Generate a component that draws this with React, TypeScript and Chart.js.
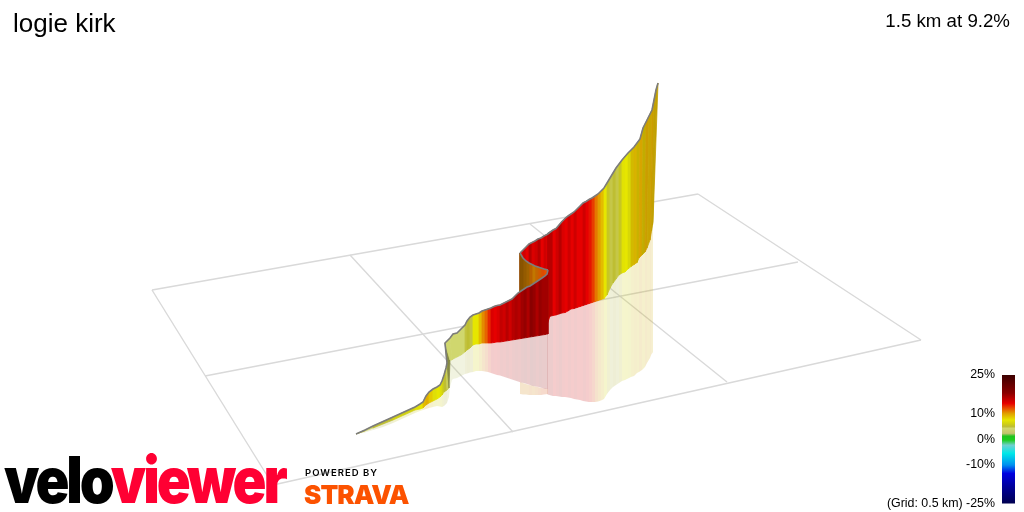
import React, { useEffect, useRef } from "react";
import { Chart, registerables } from "chart.js";

Chart.register(...registerables);

const titleText = "logie kirk";
const statText = "1.5 km at 9.2%";
const gridNote = "(Grid: 0.5 km)";
const legendTicks = [25, 10, 0, -10, -25];

// colour scale: gradient percent -> colour
const scalePct = [25, 18, 14, 12, 10, 7.5, 6, 5, 4.2, 2.3, 1.2, -0.3, -2.3, -5.5, -10, -13.3, -18.5, -25];
const scaleRgb = [
  [60, 0, 0], [138, 0, 0], [230, 0, 0], [232, 80, 0], [225, 160, 0], [230, 230, 0], [208, 208, 20], [190, 190, 50], [208, 215, 110],
  [195, 195, 110], [30, 195, 30], [30, 205, 30], [112, 208, 208], [0, 232, 232], [0, 144, 240], [0, 0, 224], [0, 0, 154], [0, 0, 80],
];

// grid of the ground plane, segment by segment
const gridX1 = [152, 152, 273, 698, 350, 530, 205];
const gridY1 = [290, 290, 485, 194, 255, 224, 376];
const gridX2 = [698, 273, 921, 921, 513, 727, 798];
const gridY2 = [194, 485, 340, 340, 432, 382, 262];

// first stretch of the climb, in front
const aX = [356, 365, 373, 383, 393, 404, 415, 420, 423, 426, 429, 433, 437, 440, 442, 444, 446, 447, 445, 450, 453, 457, 461, 465, 467, 470, 473, 476, 479, 482, 485, 488, 491, 494, 497, 500, 503, 506, 509, 512, 515, 518, 521, 524, 527, 530, 533, 536, 539, 542, 545, 547, 548];
const aTop = [434, 430, 426, 421.5, 417, 412, 407, 404, 402, 396, 392, 389, 387, 385, 381, 375, 368, 363, 343, 338, 334, 333, 329, 325, 321, 317, 315, 314, 313, 311, 310, 309, 308, 306.5, 305.5, 305, 303.5, 302, 300.5, 299, 296, 293, 291, 289, 287, 286, 284, 282, 280, 278, 276, 274, 270];
const aBaseX = [356, 365, 373, 383, 393, 404, 415, 420, 423, 426, 429, 433, 437, 440, 442, 444, 447, 449, 450, 452, 453, 457, 461, 465, 467, 470, 473, 476, 479, 482, 485, 488, 491, 494, 497, 500, 503, 506, 509, 512, 515, 518, 521, 524, 527, 530, 533, 536, 539, 542, 545, 547, 548];
const aBase = [434, 431, 428, 424, 420, 415, 410, 409, 408, 405, 403, 401, 399, 397, 395, 392, 390, 388, 360, 360, 359, 357, 355, 352, 350, 348, 345, 344, 344, 343, 343, 343, 343, 342.5, 342, 342, 341.5, 341, 340.5, 340, 339.5, 339, 338.5, 338, 337.5, 337, 336.5, 336, 335.5, 335, 334.5, 334, 334];
const aGround = [434, 432.5, 430, 427, 423, 418, 413, 411, 410, 409, 408, 407, 406, 406.5, 407, 406, 403, 397, 387, 380, 379, 378, 376, 374, 373.5, 372.5, 372, 371, 371, 371, 371.5, 372, 373, 374, 375, 375.5, 376.5, 377.5, 378.5, 379.5, 380.5, 381.5, 382.5, 383, 384, 385, 386, 386.5, 387, 388, 389, 389, 389];
const aGrade = [5, 5, 4, 5, 5, 6, 6, 7, 7.5, 9, 9.5, 8.5, 7, 7.5, 7, 6, 5, 4.5, 4.3, 4.2, 4.2, 4.2, 4.2, 4.2, 4.8, 5, 4.8, 7.5, 7.5, 9, 10.5, 11.5, 13, 14.5, 14, 14.5, 15.5, 15, 16, 15, 16, 16.5, 16, 17, 17.5, 16.5, 18, 17.5, 16.5, 17.5, 17, 17, 17];
const aShade = [1, 1, 1, 1, 1, 1, 1, 1, 1, 1, 1, 1, 1, 1, 1, 1, 1, 1, 0.65, 1, 1, 1, 1, 1, 1, 1, 1, 1, 1, 1, 1, 1, 1, 1, 1, 1, 1, 1, 1, 1, 1, 1, 1, 1, 1, 1, 1, 1, 1, 1, 1, 1, 1];

// the switchback, running back towards the left
const bX = [548, 544, 541, 538, 535, 532, 529, 526, 523, 520];
const bTop = [270, 269, 268, 267, 266, 264.5, 263, 261, 258, 253];
const bBase = [320, 320, 320, 320, 320, 320, 320, 320, 320, 320];
const bPaleTop = [389, 388.5, 388, 387, 386.5, 385.5, 385, 384, 383, 382];
const bGround = [394, 394.5, 395, 395, 395, 395, 395, 394.5, 394.5, 394];
const bGrade = [12, 12, 12, 11.5, 11, 10.5, 11, 10.5, 10.5, 10.5];
const bShade = [1, 1, 0.95, 0.9, 0.85, 0.85, 0.8, 0.7, 0.65, 0.6];

// last stretch, behind the first one
const c1X = [520, 523, 526, 529, 532, 535, 538, 541, 544, 547, 550];
const c1Top = [253, 250, 247, 244, 242.5, 241, 239, 238, 236, 234.5, 232];
const c1Base = [330, 330, 330, 330, 330, 330, 330, 330, 330, 325, 316];
const c1Grade = [13, 14, 15, 14, 16, 14.5, 15, 16, 14, 15, 14];

const c2X = [547.5, 553, 556, 559, 562, 565, 568, 571, 574, 577, 580, 583, 586, 589, 592, 595, 598, 601, 604, 607, 610, 613, 616, 619, 622, 625, 628, 631, 634, 637, 640, 643, 646, 649, 652, 654, 656, 658];
const c2Top = [234, 230, 228.5, 225, 221.5, 218.5, 216, 214, 212, 209, 206, 203, 201.5, 199.5, 198, 196, 194, 191, 188, 183, 178, 173, 168, 164, 160, 156.5, 153, 150, 147, 143, 139, 128, 122, 116, 110, 100, 90, 83];
const c2BaseX = [547.5, 553, 556, 559, 562, 565, 568, 571, 574, 577, 580, 583, 586, 589, 592, 595, 598, 601, 604, 607, 610, 613, 616, 619, 622, 625, 628, 631, 634, 637, 639, 642, 645, 647, 650, 651.5, 652.5, 653];
const c2Base = [317, 315.5, 315, 314, 313, 312.5, 311, 309, 308.5, 307.5, 306.5, 305.5, 304.5, 303.5, 302.5, 301.5, 300.5, 299.5, 298.5, 295, 288, 283, 279, 275, 273, 272, 269, 266.5, 264.5, 262.5, 258, 255, 252, 248, 240, 231, 225, 222];
const c2Ground = [394.5, 396, 396, 396.5, 397, 397, 397.5, 398, 399, 399.5, 400, 401, 401.5, 402, 402, 402, 401.5, 400.5, 399, 394, 390, 387, 385, 383, 381, 380, 378.5, 377, 376, 373, 372, 370, 367, 363, 358, 354, 353, 352];
const c2Grade = [14, 16, 14, 15, 16, 14.5, 14, 15, 14, 15, 14, 14, 15, 14, 13.5, 12.5, 11, 10, 9, 7.5, 5.5, 4.7, 5, 4.7, 5.5, 7.2, 7.5, 7, 8.5, 9, 8.5, 9.5, 8.5, 9.5, 9, 9.5, 9, 9];
const c2Shade = [1, 1, 1, 1, 1, 1, 1, 1, 1, 1, 1, 1, 1, 1, 1, 1, 1, 1, 1, 1, 1, 1, 1, 1, 1, 1, 1, 0.97, 0.92, 0.95, 0.88, 0.95, 0.85, 0.9, 0.88, 0.9, 0.85, 0.85];

function gradeRgb(g: number) {
  for (let i = 0; i < scalePct.length - 1; i++) {
    if (g <= scalePct[i] && g >= scalePct[i + 1]) {
      const t = (g - scalePct[i + 1]) / (scalePct[i] - scalePct[i + 1]);
      return scaleRgb[i].map((c, k) => Math.round(scaleRgb[i + 1][k] + (c - scaleRgb[i + 1][k]) * t));
    }
  }
  return scaleRgb[0];
}
function gradeColor(g: number, alpha = 1, shade = 1) {
  const [r, gg, b] = gradeRgb(g);
  return `rgba(${Math.round(r * shade)},${Math.round(gg * shade)},${Math.round(b * shade)},${alpha})`;
}

function quad(pts: { x: number; y: number }[], fillColor: string, edge: string, edgeWidth: number) {
  return {
    data: [...pts, pts[0]],
    showLine: true,
    fill: "shape",
    backgroundColor: fillColor,
    borderColor: edge,
    borderWidth: edgeWidth,
    pointRadius: 0,
    pointHoverRadius: 0,
  };
}

function section(
  x: number[], top: number[], baseX: number[], base: number[], grade: number[],
  ground?: number[], paleTop?: number[], shade?: number[],
) {
  const out: any[] = [];
  for (let i = 0; i < x.length - 1; i++) {
    const g = grade[i + 1];
    const s = shade ? shade[i + 1] : 1;
    if (ground) {
      const pt = paleTop || base;
      out.push(quad(
        [{ x: baseX[i], y: pt[i] }, { x: baseX[i + 1], y: pt[i + 1] }, { x: baseX[i + 1], y: ground[i + 1] }, { x: baseX[i], y: ground[i] }],
        gradeColor(g, 0.2, 0.9), "transparent", 0,
      ));
    }
    const c = gradeColor(g, 1, s);
    out.push(quad(
      [{ x: x[i], y: top[i] }, { x: x[i + 1], y: top[i + 1] }, { x: baseX[i + 1], y: base[i + 1] }, { x: baseX[i], y: base[i] }],
      c, c, 0.8,
    ));
  }
  return out;
}

function ridge(x: number[], top: number[]) {
  return {
    data: x.map((v, i) => ({ x: v, y: top[i] })),
    showLine: true,
    fill: false,
    borderColor: "#7c7c7c",
    borderWidth: 1.6,
    pointRadius: 0,
    pointHoverRadius: 0,
  };
}

function buildDatasets() {
  const list: any[] = [];
  gridX1.forEach((x, i) => {
    list.push({
      data: [{ x, y: gridY1[i] }, { x: gridX2[i], y: gridY2[i] }],
      showLine: true, fill: false, borderColor: "#d9d9d9", borderWidth: 1.4, pointRadius: 0,
    });
  });
  list.push(...section(c1X, c1Top, c1X, c1Base, c1Grade));
  list.push(...section(c2X, c2Top, c2BaseX, c2Base, c2Grade, c2Ground, undefined, c2Shade));
  list.push(ridge(c1X, c1Top), ridge(c2X, c2Top));
  list.push(...section(bX, bTop, bX, bBase, bGrade, bGround, bPaleTop, bShade));
  list.push(ridge(bX, bTop));
  list.push(...section(aX, aTop, aBaseX, aBase, aGrade, aGround, undefined, aShade));
  list.push(ridge(aX, aTop));
  list.forEach((d, i) => { d.order = list.length - i; });
  return list;
}

const text = (style: React.CSSProperties): React.CSSProperties => ({ position: "absolute", whiteSpace: "nowrap", lineHeight: 1, ...style });

export default function App() {
  const mainRef = useRef<HTMLCanvasElement>(null);
  const legendRef = useRef<HTMLCanvasElement>(null);

  useEffect(() => {
    const main = new Chart(mainRef.current!, {
      type: "scatter",
      data: { datasets: buildDatasets() },
      options: {
        animation: false, responsive: false,
        layout: { padding: 0 },
        events: [],
        scales: {
          x: { type: "linear", min: 0, max: 1024, display: false },
          y: { type: "linear", min: 0, max: 512, reverse: true, display: false },
        },
        plugins: { legend: { display: false }, tooltip: { enabled: false } },
      },
    } as any);

    const legend = new Chart(legendRef.current!, {
      type: "bar",
      data: {
        labels: ["grade"],
        datasets: [{
          data: [[-25, 25]],
          barPercentage: 1, categoryPercentage: 1, borderWidth: 0,
          backgroundColor: (ctx: any) => {
            const area = ctx.chart.chartArea;
            if (!area) return "#e60000";
            const grad = ctx.chart.ctx.createLinearGradient(0, area.top, 0, area.bottom);
            scalePct.forEach((p, i) => {
              const [r, g, b] = scaleRgb[i];
              grad.addColorStop((25 - p) / 50, `rgb(${r},${g},${b})`);
            });
            return grad;
          },
        }],
      },
      options: {
        animation: false, responsive: false, events: [],
        layout: { padding: { top: 15, bottom: 3, right: 9, left: 0 } },
        scales: {
          x: { display: false, stacked: true },
          y: {
            min: -25, max: 25,
            afterBuildTicks: (s: any) => { s.ticks = legendTicks.map((value) => ({ value })); },
            afterFit: (s: any) => { s.width = 142; },
            grid: { display: false, drawTicks: false },
            border: { display: false },
            ticks: {
              autoSkip: false, padding: 7, color: "#000",
              font: { family: "'Liberation Sans', Arial, sans-serif", size: 12.4 },
              callback: (v: any) => (v === -25 ? `${gridNote} ${v}%` : `${v}%`),
            },
          },
        },
        plugins: { legend: { display: false }, tooltip: { enabled: false } },
      },
    } as any);

    return () => { main.destroy(); legend.destroy(); };
  }, []);

  const sans = "'Liberation Sans', Arial, sans-serif";
  const heavy = "Inter, Roboto, 'Liberation Sans', sans-serif";
  return (
    <div style={{ position: "fixed", left: 0, top: 0, width: 1024, height: 512, background: "#fff", overflow: "hidden" }}>
      <canvas ref={mainRef} width={1024} height={512} style={{ position: "absolute", left: 0, top: 0, width: 1024, height: 512 }} />
      <canvas ref={legendRef} width={164} height={158} style={{ position: "absolute", left: 860, top: 360, width: 164, height: 158 }} />
      <div style={text({ left: 13, top: 10, fontFamily: sans, fontSize: 26, color: "#000" })}>{titleText}</div>
      <div style={text({ right: 14, top: 12, fontFamily: sans, fontSize: 18.7, color: "#000" })}>{statText}</div>
      <div style={text({ left: 4, top: 448, fontFamily: heavy, fontWeight: 900, fontSize: 64, letterSpacing: -3.5, color: "#000", transform: "scaleX(0.875)", transformOrigin: "left center" })}>
        velo<span style={{ color: "#ff0033" }}>viewer</span>
      </div>
      <div style={text({ left: 305, top: 468, fontFamily: heavy, fontWeight: 600, fontSize: 9.5, letterSpacing: 1, color: "#000" })}>POWERED BY</div>
      <div style={text({ left: 304, top: 482, fontFamily: heavy, fontWeight: 900, fontSize: 26, letterSpacing: -0.9, color: "#fc5200" })}>STRAVA</div>
    </div>
  );
}
